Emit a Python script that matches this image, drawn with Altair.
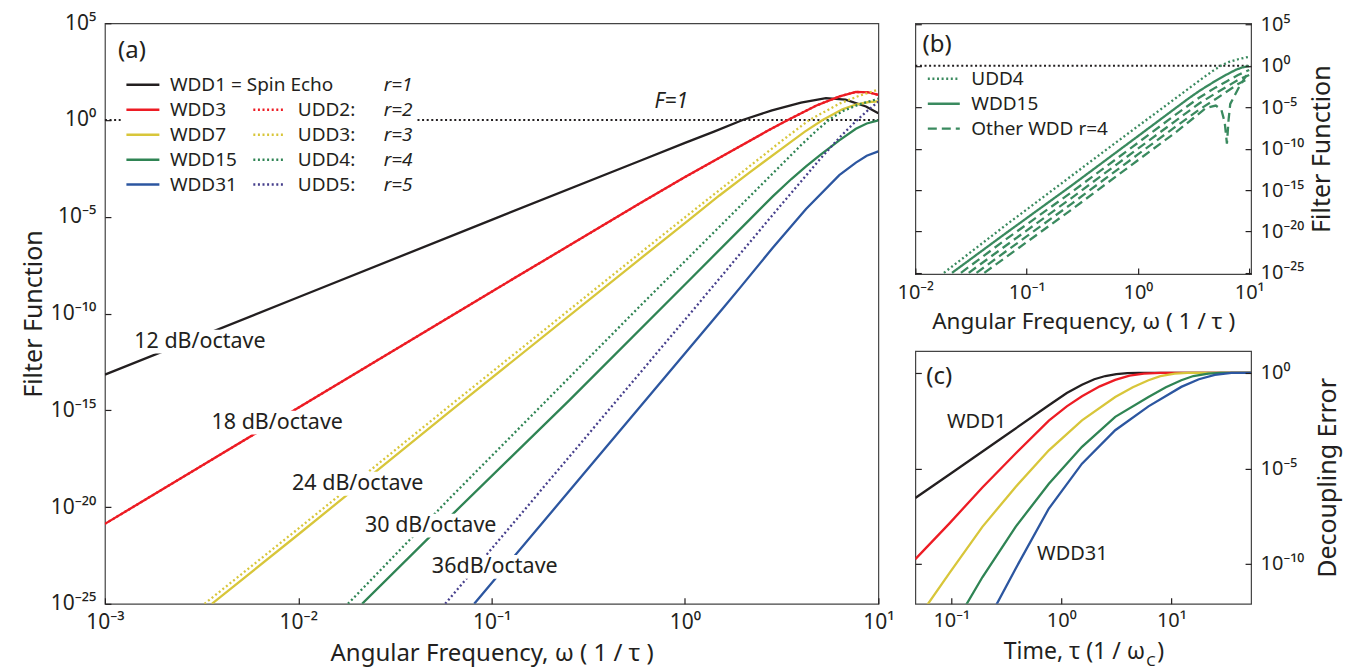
import altair as alt
import numpy as np
import pandas as pd

FONT = "Noto Sans"
INK = "#231f20"

# ---------------- Panel (a): log10(omega) / log10(F) ----------------
wdd_names = ["WDD1 = Spin Echo", "WDD3", "WDD7", "WDD15", "WDD31"]
wdd_colors = ["#231f20", "#ed1c24", "#d8c63a", "#2f8454", "#2c56a0"]
udd_names = ["UDD2:", "UDD3:", "UDD4:", "UDD5:"]
udd_colors = ["#ed1c24", "#d8c63a", "#2f8454", "#463f8c"]
r_labels = ["r=1", "r=2", "r=3", "r=4", "r=5"]

wdd1_lw = [-3.0, -2.0, -1.0, -0.235, 0.0, 0.15, 0.298, 0.45, 0.6, 0.729, 0.83, 0.936, 1.0]
wdd1_lF = [-13.16, -9.16, -5.16, -2.12, -1.18, -0.6, 0.0, 0.5, 0.9, 1.13, 1.05, 0.7, 0.35]
wdd3_lw = [-3.0, -2.0, -1.0, -0.235, 0.0, 0.25, 0.42, 0.522, 0.68, 0.8, 0.884, 0.95, 1.0]
wdd3_lF = [-20.87, -14.87, -8.87, -4.32, -2.95, -1.55, -0.6, -0.05, 0.75, 1.22, 1.45, 1.43, 1.3]
wdd7_lw = [-2.447, -2.0, -1.217, -0.235, 0.0, 0.178, 0.333, 0.504, 0.62, 0.712, 0.814, 0.884, 0.95, 1.0]
wdd7_lF = [-25.0, -21.42, -15.07, -7.2, -5.33, -3.9, -2.72, -1.45, -0.6, 0.0, 0.55, 0.8, 0.93, 0.96]
wdd15_lw = [-1.67, -1.2, -0.6, 0.0, 0.333, 0.454, 0.55, 0.626, 0.7, 0.798, 0.884, 0.94, 1.0]
wdd15_lF = [-25.0, -20.35, -14.5, -8.5, -5.16, -3.95, -3.05, -2.4, -1.8, -1.05, -0.45, -0.18, -0.02]
wdd31_lw = [-1.09, -0.5, 0.204, 0.282, 0.454, 0.626, 0.798, 0.884, 0.94, 1.0]
wdd31_lF = [-25.0, -18.0, -9.64, -8.7, -6.6, -4.6, -2.85, -2.2, -1.85, -1.62]

udd2_lw = [-3.0, -2.0, -1.0, -0.235, 0.0, 0.25, 0.42, 0.522, 0.68, 0.8, 0.884, 0.95, 1.0]
udd2_lF = [-20.87, -14.87, -8.87, -4.32, -2.95, -1.55, -0.6, -0.05, 0.75, 1.22, 1.45, 1.43, 1.3]
udd3_lw = [-2.485, -2.0, -1.217, -0.235, 0.0, 0.333, 0.504, 0.643, 0.8, 0.9, 1.0]
udd3_lF = [-25.0, -21.12, -14.77, -6.9, -5.03, -2.4, -1.05, 0.0, 0.85, 1.25, 1.57]
udd4_lw = [-1.743, -1.217, -0.235, 0.3, 0.6, 0.68, 0.75, 0.82, 0.9, 1.0]
udd4_lF = [-25.0, -19.55, -9.64, -4.3, -1.3, -0.55, 0.05, 0.48, 0.8, 1.1]
udd5_lw = [-1.24, 0.057, 0.5, 0.7, 0.8, 0.88, 0.94, 1.0]
udd5_lF = [-25.0, -9.64, -4.35, -2.0, -0.9, -0.1, 0.45, 0.95]

# annotation text for panel (a)
db_text = ["12 dB/octave", "18 dB/octave", "24 dB/octave", "30 dB/octave", "36dB/octave"]
db_w = [3.10e-3, 7.78e-3, 2.03e-2, 4.84e-2, 0.1038]
db_F = [3.5e-12, 2.3e-16, 1.6e-19, 1.1e-21, 8.1e-24]

# ---------------- Panel (b): other r=4 Walsh sequences (dashed) ----------------
oth1_lw = [-1.59, -1.2, -0.6, 0.0, 0.333, 0.55, 0.7, 0.8, 0.9, 1.0]
oth1_lF = [-25.0, -21.1, -15.3, -9.3, -5.95, -3.85, -2.6, -1.85, -1.1, -0.5]
oth2_lw = [-1.52, -1.2, -0.6, 0.0, 0.333, 0.55, 0.7, 0.8, 0.9, 1.0]
oth2_lF = [-25.0, -21.85, -16.0, -10.0, -6.7, -4.55, -3.3, -2.5, -1.7, -1.1]
oth3_lw = [-1.45, -1.2, -0.6, 0.0, 0.333, 0.55, 0.7, 0.8, 0.9, 1.0]
oth3_lF = [-25.0, -22.55, -16.7, -10.7, -7.4, -5.3, -4.0, -3.1, -2.2, -1.5]
oth4_lw = [-1.38, -1.2, -0.6, 0.0, 0.333, 0.5, 0.61, 0.7, 0.75, 0.78, 0.80, 0.815, 0.83, 0.91, 0.97, 1.0]
oth4_lF = [-25.0, -23.25, -17.4, -11.4, -8.1, -6.3, -5.1, -4.8, -5.3, -6.8, -9.4, -6.5, -4.6, -2.55, -1.25, -0.9]
b_kinds = ["UDD4", "WDD15", "Other WDD r=4"]

# ---------------- Panel (c): log10(tau) / log10(decoupling error) ----------------
c1_lt = [-1.326, -1.0, -0.5, -0.113, 0.05, 0.188, 0.3, 0.4, 0.5, 0.6, 0.7, 1.724]
c1_lE = [-6.55, -5.25, -3.25, -1.69, -1.05, -0.62, -0.33, -0.16, -0.06, -0.01, 0.0, 0.0]
c3_lt = [-1.326, -1.018, -0.717, -0.415, -0.113, 0.05, 0.188, 0.35, 0.49, 0.62, 0.75, 0.9, 1.724]
c3_lE = [-9.75, -7.89, -6.0, -4.22, -2.5, -1.75, -1.22, -0.7, -0.36, -0.14, -0.03, 0.0, 0.0]
c7_lt = [-1.23, -1.018, -0.717, -0.415, -0.113, 0.188, 0.49, 0.65, 0.792, 0.9, 1.03, 1.15, 1.724]
c7_lE = [-12.25, -10.5, -8.06, -5.97, -4.05, -2.48, -1.26, -0.75, -0.38, -0.17, -0.03, 0.0, 0.0]
c15_lt = [-0.87, -0.717, -0.415, -0.113, 0.188, 0.49, 0.792, 0.95, 1.09, 1.2, 1.335, 1.45, 1.724]
c15_lE = [-12.2, -10.7, -8.06, -5.8, -3.87, -2.3, -1.26, -0.75, -0.38, -0.16, -0.03, 0.0, 0.0]
c31_lt = [-0.6, -0.415, -0.113, 0.188, 0.49, 0.792, 1.09, 1.25, 1.395, 1.546, 1.724]
c31_lE = [-12.25, -10.25, -7.1, -4.75, -3.0, -1.75, -0.73, -0.33, -0.1, 0.0, 0.0]


def curve(name, lx, ly, xname="w", yname="F", **extra):
    d = pd.DataFrame({xname: np.power(10.0, lx), yname: np.power(10.0, ly)})
    d["series"] = name
    for k, v in extra.items():
        d[k] = v
    return d


SUP = str.maketrans("0123456789-", "⁰¹²³⁴⁵⁶⁷⁸⁹⁻")


def pow_expr(exps):
    expr = "''"
    for e in exps:
        expr = f"(round(log(datum.value)/LN10) == {e}) ? '10{str(e).translate(SUP)}' : ({expr})"
    return expr


def ax(orient, exps, title=None, labels=True, label_pad=8, title_pad=6, size=21, tsize=24, **kw):
    return alt.Axis(orient=orient, values=[10.0 ** e for e in exps], labelExpr=pow_expr(exps),
                    labels=labels, title=title, offset=-6, tickSize=6, tickWidth=1.2,
                    tickColor=INK, domain=False, grid=False, labelFont=FONT,
                    labelFontSize=size, labelColor=INK, labelPadding=label_pad,
                    labelFlush=False, titleFont=FONT, titleFontSize=tsize,
                    titleFontWeight="normal", titleColor=INK, titlePadding=title_pad,
                    zindex=1, labelOverlap=False, **kw)


LEG_FS = 19

# ================= Panel (a) =================
df_wdd = pd.concat([
    curve(wdd_names[0], wdd1_lw, wdd1_lF), curve(wdd_names[1], wdd3_lw, wdd3_lF),
    curve(wdd_names[2], wdd7_lw, wdd7_lF), curve(wdd_names[3], wdd15_lw, wdd15_lF),
    curve(wdd_names[4], wdd31_lw, wdd31_lF)])
df_udd = pd.concat([
    curve(udd_names[0], udd2_lw, udd2_lF), curve(udd_names[1], udd3_lw, udd3_lF),
    curve(udd_names[2], udd4_lw, udd4_lF), curve(udd_names[3], udd5_lw, udd5_lF)])

exps_a = [-25, -20, -15, -10, -5, 0, 5]
sc_xa = alt.Scale(type="log", domain=[1e-3, 10], nice=False)
sc_ya = alt.Scale(type="log", domain=[1e-25, 1e5], nice=False)
xa = alt.X("w:Q", scale=sc_xa,
           axis=ax("bottom", [-3, -2, -1, 0, 1], "Angular Frequency, ω  ( 1 / τ )", label_pad=8,
                   title_pad=9, tsize=24))
ya = alt.Y("F:Q", scale=sc_ya, axis=ax("left", exps_a, "Filter Function", label_pad=9, title_pad=4,
                                      tsize=25))

legend_w = alt.Legend(title=None, orient="none", legendX=16, legendY=45, symbolType="stroke",
                      symbolSize=1089, symbolStrokeWidth=2.5, labelFont=FONT, labelFontSize=LEG_FS,
                      labelColor=INK, labelOffset=9, clipHeight=25, rowPadding=0,
                      fillColor="white", padding=4, zindex=1, labelLimit=400)
legend_u = alt.Legend(title=None, orient="none", legendX=145, legendY=72, symbolType="stroke",
                      symbolSize=900, symbolStrokeWidth=2.5, symbolDash=[2, 2.6],
                      labelFont=FONT, labelFontSize=LEG_FS, labelColor=INK, labelOffset=13,
                      clipHeight=25, rowPadding=0, fillColor="white", padding=2, zindex=2,
                      labelLimit=400)
# r-column: invisible stroke symbols so the white box bridges the gap after the UDD labels
legend_r = alt.Legend(title=None, orient="none", legendX=251, legendY=45, symbolType="stroke",
                      symbolSize=576, symbolOpacity=0, symbolStrokeWidth=0,
                      symbolStrokeColor="white", labelFont=FONT, labelFontSize=LEG_FS,
                      labelFontStyle="italic", labelColor=INK, labelOffset=0, clipHeight=25,
                      rowPadding=0, fillColor="white", padding=4, zindex=3)

unity_a = alt.Chart(pd.DataFrame({"w": [1e-3, 10.0], "F": [1.0, 1.0]})).mark_line(
    color=INK, strokeDash=[2, 2.6], strokeWidth=2).encode(x=xa, y=ya)
wdd_lines = alt.Chart(df_wdd).mark_line(strokeWidth=2.3, clip=True).encode(
    x=xa, y=ya,
    color=alt.Color("series:N", scale=alt.Scale(domain=wdd_names, range=wdd_colors), legend=legend_w))
udd_lines = alt.Chart(df_udd).mark_line(strokeWidth=2.3, strokeDash=[2, 2.6], clip=True).encode(
    x=xa, y=ya,
    color=alt.Color("series:N", scale=alt.Scale(domain=udd_names, range=udd_colors), legend=legend_u))
r_layer = alt.Chart(pd.DataFrame({"r": r_labels})).mark_point(opacity=0).encode(
    x=alt.value(0), y=alt.value(0),
    shape=alt.Shape("r:N", scale=alt.Scale(domain=r_labels), legend=legend_r))

df_db = pd.DataFrame({"w": db_w, "F": db_F, "txt": db_text})
# white box behind each slope label, centred on the label through the same scales
db_box = alt.Chart(df_db).mark_point(shape="M-1,-0.17H1V0.17H-1Z", filled=True, color="white",
                                     opacity=1, size=19600).encode(x=xa, y=ya)
db_lab = alt.Chart(df_db).mark_text(font=FONT, fontSize=21.5, color=INK).encode(x=xa, y=ya, text="txt:N")
a_lab = alt.Chart(pd.DataFrame({"w": [1.17e-3], "F": [3.5e3], "txt": ["(a)"]})).mark_text(
    font=FONT, fontSize=24, color=INK, align="left").encode(x=xa, y=ya, text="txt:N")
f_lab = alt.Chart(pd.DataFrame({"w": [0.85], "F": [8.1], "txt": ["F=1"]})).mark_text(
    font=FONT, fontSize=21, fontStyle="italic", color=INK).encode(x=xa, y=ya, text="txt:N")

panel_a = alt.layer(unity_a, wdd_lines, udd_lines, r_layer, db_box, db_lab, a_lab, f_lab).resolve_scale(
    color="independent").properties(width=774, height=581)

# ================= Panel (b) =================
GB = "#3a8a5f"
df_b = pd.concat([
    curve("UDD4", udd4_lw, udd4_lF, kind="UDD4"),
    curve("WDD15", wdd15_lw, wdd15_lF, kind="WDD15"),
    curve("o1", oth1_lw, oth1_lF, kind="Other WDD r=4"),
    curve("o2", oth2_lw, oth2_lF, kind="Other WDD r=4"),
    curve("o3", oth3_lw, oth3_lF, kind="Other WDD r=4"),
    curve("o4", oth4_lw, oth4_lF, kind="Other WDD r=4")])

sc_xb = alt.Scale(type="log", domain=[1e-2, 10.4], nice=False)
sc_yb = alt.Scale(type="log", domain=[10 ** -25.15, 10 ** 5.15], nice=False)
xb = alt.X("w:Q", scale=sc_xb,
           axis=ax("bottom", [-2, -1, 0, 1], "Angular Frequency, ω  ( 1 / τ )", size=20, tsize=22.5,
                   label_pad=8, title_pad=8))
yb_r = alt.Y("F:Q", scale=sc_yb, axis=ax("right", exps_a, "Filter Function", size=20, tsize=25,
                                        label_pad=9, title_pad=6, titleAngle=270, titleBaseline="top"))
yb_l = alt.Y("F:Q", scale=sc_yb, axis=ax("left", exps_a, None, labels=False))
yb_n = alt.Y("F:Q", scale=sc_yb, axis=None)

legend_b = alt.Legend(title=None, orient="none", legendX=9, legendY=41, symbolType="stroke",
                      symbolSize=1024, symbolStrokeWidth=2.4, symbolStrokeColor=GB,
                      labelFont=FONT, labelFontSize=LEG_FS, labelColor=INK, labelOffset=10,
                      clipHeight=25, rowPadding=0, padding=2, zindex=1, labelLimit=400)

unity_b = alt.Chart(pd.DataFrame({"w": [1e-2, 10.4], "F": [1.0, 1.0]})).mark_line(
    color=INK, strokeDash=[2, 2.6], strokeWidth=2).encode(x=xb, y=yb_l)
b_lines = alt.Chart(df_b).mark_line(strokeWidth=2.3, color=GB, clip=True).encode(
    x=xb, y=yb_r, detail="series:N",
    strokeDash=alt.StrokeDash("kind:N", scale=alt.Scale(domain=b_kinds, range=[[2, 2.6], [1, 0], [9, 5]]),
                              legend=legend_b))
b_lab = alt.Chart(pd.DataFrame({"w": [0.0116], "F": [3.5e2], "txt": ["(b)"]})).mark_text(
    font=FONT, fontSize=24, color=INK, align="left").encode(x=xb, y=yb_n, text="txt:N")

panel_b = alt.layer(unity_b, b_lines, b_lab).resolve_axis(y="independent").properties(width=336, height=251)

# ================= Panel (c) =================
c_colors = wdd_colors
df_c = pd.concat([
    curve("WDD1", c1_lt, c1_lE, "t", "E", col=c_colors[0]),
    curve("WDD3", c3_lt, c3_lE, "t", "E", col=c_colors[1]),
    curve("WDD7", c7_lt, c7_lE, "t", "E", col=c_colors[2]),
    curve("WDD15", c15_lt, c15_lE, "t", "E", col=c_colors[3]),
    curve("WDD31", c31_lt, c31_lE, "t", "E", col=c_colors[4])])

sc_xc = alt.Scale(type="log", domain=[10 ** -1.326, 10 ** 1.724], nice=False)
sc_yc = alt.Scale(type="log", domain=[10 ** -12.09, 10 ** 1.15], nice=False)
xc = alt.X("t:Q", scale=sc_xc, axis=ax("bottom", [-1, 0, 1], None, size=20, label_pad=7))
yc_r = alt.Y("E:Q", scale=sc_yc, axis=ax("right", [-10, -5, 0], "Decoupling Error", size=20, tsize=25,
                                        label_pad=9, title_pad=12, titleAngle=270, titleBaseline="top"))
yc_l = alt.Y("E:Q", scale=sc_yc, axis=ax("left", [-10, -5, 0], None, labels=False))
yc_n = alt.Y("E:Q", scale=sc_yc, axis=None)

c_lines = alt.Chart(df_c).mark_line(strokeWidth=2.3, clip=True).encode(
    x=xc, y=yc_r, detail="series:N", color=alt.Color("col:N", scale=None))
c_frame = alt.Chart(pd.DataFrame({"t": [1.0], "E": [1.0]})).mark_point(opacity=0).encode(x=xc, y=yc_l)
c_tag = alt.Chart(pd.DataFrame({"t": [0.0594], "E": [0.62], "txt": ["(c)"]})).mark_text(
    font=FONT, color=INK, fontSize=24, align="left").encode(x=xc, y=yc_n, text="txt:N")
c_ann = alt.Chart(pd.DataFrame({"t": [0.170, 1.26], "E": [2.7e-3, 3.3e-10],
                                "txt": ["WDD1", "WDD31"]})).mark_text(
    font=FONT, color=INK, fontSize=20).encode(x=xc, y=yc_n, text="txt:N")
c_title1 = alt.Chart(pd.DataFrame({"s": ["Time, τ  (1 / ω"]})).mark_text(
    font=FONT, fontSize=23, color=INK, align="right", baseline="middle").encode(
    x=alt.value(230), y=alt.value(301), text="s:N")
c_title2 = alt.Chart(pd.DataFrame({"s": ["C"]})).mark_text(
    font=FONT, fontSize=15, color=INK, align="left", baseline="middle").encode(
    x=alt.value(231), y=alt.value(310), text="s:N")
c_title3 = alt.Chart(pd.DataFrame({"s": [")"]})).mark_text(
    font=FONT, fontSize=23, color=INK, align="left", baseline="middle").encode(
    x=alt.value(242), y=alt.value(301), text="s:N")

panel_c = alt.layer(c_frame, c_lines, c_tag, c_ann, c_title1, c_title2, c_title3).resolve_axis(
    y="independent").properties(width=336, height=253)

right = alt.vconcat(panel_b, panel_c, spacing=77, bounds="flush")
chart = alt.hconcat(panel_a, right, spacing=37, bounds="flush").resolve_scale(
    color="independent", strokeDash="independent", shape="independent").properties(
    padding={"left": 12, "top": 3, "right": 4, "bottom": 2}).configure_view(
    stroke="#444444", strokeWidth=1.2)

chart.save("out.html", embed_options={"renderer": "svg", "actions": False})
